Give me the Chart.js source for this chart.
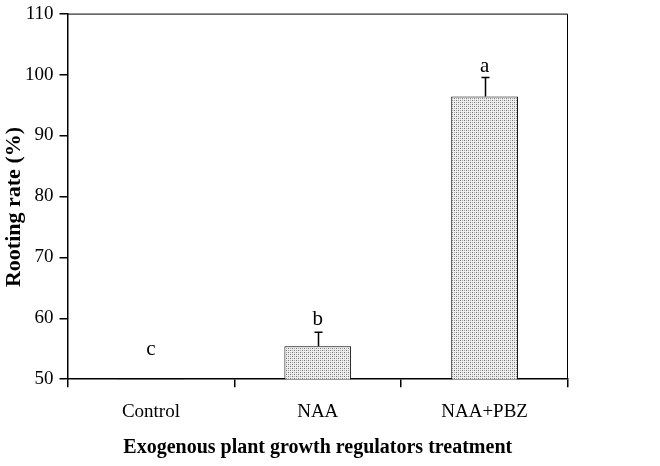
<!DOCTYPE html>
<html>
<head>
<meta charset="utf-8">
<script src="https://cdn.jsdelivr.net/npm/chart.js@4.4.1/dist/chart.umd.min.js"></script>
<style>
  html, body { margin: 0; padding: 0; background: #fff; }
  #wrap { width: 660px; height: 466px; }
</style>
</head>
<body>
<div id="wrap"><canvas id="rootChart"></canvas></div>
<script>
// chart data
const treatments  = ['Control', 'NAA', 'NAA+PBZ'];
const rootingRate = [50, 55.4, 96.4];
const errorUpper  = [0, 2.3, 3.1];
const sigLetters  = ['c', 'b', 'a'];
const letterLevel = [54.9, 59.8, 101.4];
const yTicks      = [50, 60, 70, 80, 90, 100, 110];

const serif = '"Liberation Serif", "Times New Roman", serif';

// dotted fill like the print version
function dotPattern() {
    const c = document.createElement('canvas');
    c.width = 4;
    c.height = 4;
    const g = c.getContext('2d');
    g.fillStyle = '#eeeeee';
    g.fillRect(0, 0, 4, 4);
    g.fillStyle = '#777777';
    g.fillRect(0, 0, 1, 1);
    g.fillRect(2, 2, 1, 1);
    g.fillStyle = '#aaaaaa';
    g.fillRect(2, 0, 1, 1);
    g.fillRect(0, 2, 1, 1);
    return g.createPattern(c, 'repeat');
}

const extrasPlugin = {
    id: 'extras',
    afterDatasetsDraw(chart) {
        const ctx = chart.ctx;
        const x = chart.scales.x;
        const y = chart.scales.y;
        const area = chart.chartArea;

        ctx.save();

        // frame: top and right
        ctx.strokeStyle = '#000';
        ctx.lineWidth = 1;
        ctx.beginPath();
        ctx.moveTo(area.left, area.top + 0.5);
        ctx.lineTo(area.right - 0.5, area.top + 0.5);
        ctx.lineTo(area.right - 0.5, area.bottom);
        ctx.stroke();

        // error bars (upper only)
        ctx.lineWidth = 1.5;
        rootingRate.forEach((v, i) => {
            if (!errorUpper[i]) return;
            const cx = Math.round(x.getPixelForValue(i)) + 0.5;
            const yTop = y.getPixelForValue(v + errorUpper[i]);
            const yBar = y.getPixelForValue(v);
            ctx.beginPath();
            ctx.moveTo(cx, yBar);
            ctx.lineTo(cx, yTop);
            ctx.moveTo(cx - 4, yTop);
            ctx.lineTo(cx + 4, yTop);
            ctx.stroke();
        });

        // significance letters
        ctx.fillStyle = '#000';
        ctx.font = '21px ' + serif;
        ctx.textAlign = 'center';
        ctx.textBaseline = 'middle';
        sigLetters.forEach((t, i) => {
            ctx.fillText(t, x.getPixelForValue(i), y.getPixelForValue(letterLevel[i]));
        });

        // y title
        ctx.font = 'bold 22px ' + serif;
        ctx.translate(14, 207);
        ctx.rotate(-Math.PI / 2);
        ctx.fillText('Rooting rate (%)', 0, 0);

        ctx.restore();
    }
};

new Chart(document.getElementById('rootChart'), {
    type: 'bar',
    data: {
        labels: treatments,
        datasets: [{
            data: rootingRate,
            backgroundColor: dotPattern(),
            borderColor: '#000',
            borderWidth: 1,
            borderSkipped: 'bottom',
            categoryPercentage: 1,
            barPercentage: 0.4
        }]
    },
    options: {
        responsive: true,
        maintainAspectRatio: false,
        animation: false,
        layout: {
            padding: { left: 19, right: 92, top: 1, bottom: 6 }
        },
        plugins: {
            legend: { display: false },
            tooltip: { enabled: false }
        },
        scales: {
            x: {
                grid: {
                    drawOnChartArea: false,
                    drawTicks: true,
                    tickLength: 8,
                    color: '#000',
                    lineWidth: 1.5
                },
                border: { color: '#000', width: 1.5 },
                ticks: {
                    color: '#000',
                    font: { family: serif, size: 19 },
                    padding: 13
                },
                title: {
                    display: true,
                    text: 'Exogenous plant growth regulators treatment',
                    color: '#000',
                    font: { family: serif, size: 20, weight: 'bold' },
                    padding: { top: 0, bottom: 0 }
                }
            },
            y: {
                min: 50,
                max: 110,
                afterBuildTicks: (axis) => {
                    axis.ticks = yTicks.map(v => ({ value: v }));
                },
                grid: {
                    drawOnChartArea: false,
                    drawTicks: true,
                    tickLength: 8,
                    color: '#000',
                    lineWidth: 1.5
                },
                border: { color: '#000', width: 1.5 },
                ticks: {
                    color: '#000',
                    font: { family: serif, size: 19, lineHeight: 0.8 },
                    padding: 6
                }
            }
        }
    },
    plugins: [extrasPlugin]
});
</script>
</body>
</html>
